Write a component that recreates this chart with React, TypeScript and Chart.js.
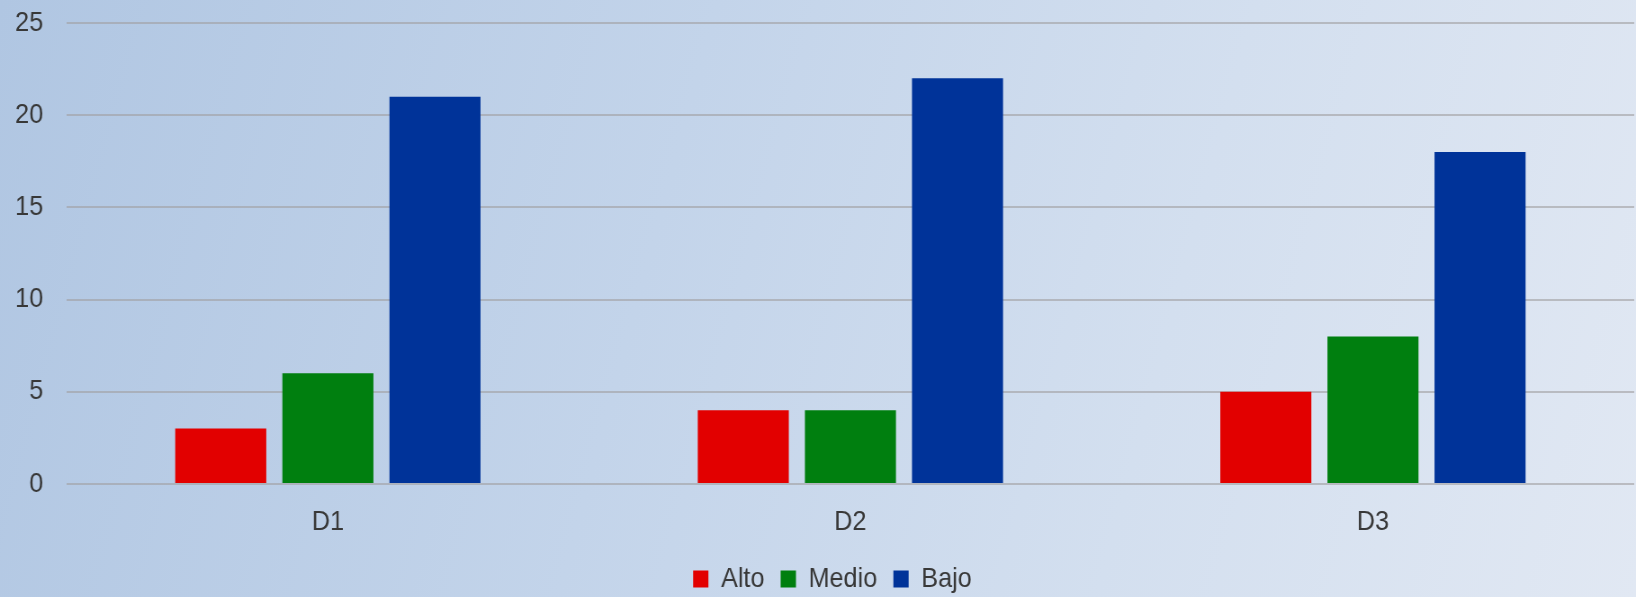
import React, { useEffect, useRef } from "react";
import { Chart, registerables } from "chart.js";

Chart.register(...registerables);

const categories = ["D1", "D2", "D3"];
const alto = [3, 4, 5];
const medio = [6, 4, 8];
const bajo = [21, 22, 18];
const yTicks = [0, 5, 10, 15, 20, 25];

const FONT = "'Liberation Sans', Arial, sans-serif";
const TEXT = "#383838";
// Canvas is drawn a little wider than shown and squeezed horizontally,
// which matches the slightly condensed lettering of the reference.
const CANVAS_W = 1818;
const CANVAS_H = 603;
const LEGEND_SHIFT = 17;

const legendShift = {
  id: "legendShift",
  afterLayout(chart: any) {
    const l = chart.legend;
    if (l) {
      l.left += LEGEND_SHIFT;
      l.right += LEGEND_SHIFT;
    }
  },
};

export default function App() {
  const ref = useRef<HTMLCanvasElement | null>(null);

  useEffect(() => {
    if (!ref.current) return;
    const chart = new Chart(ref.current, {
      type: "bar",
      data: {
        labels: categories,
        datasets: [
          { label: "Alto", data: alto, backgroundColor: "#e20000", borderWidth: 0 },
          { label: "Medio", data: medio, backgroundColor: "#007f0f", borderWidth: 0 },
          { label: "Bajo", data: bajo, backgroundColor: "#003399", borderWidth: 0 },
        ],
      },
      plugins: [legendShift],
      options: {
        responsive: false,
        animation: false,
        maintainAspectRatio: false,
        layout: { padding: { top: 23, right: 2, left: 0, bottom: 0 } },
        datasets: { bar: { barPercentage: 0.85, categoryPercentage: 0.615 } },
        plugins: {
          tooltip: { enabled: false },
          legend: {
            position: "bottom",
            labels: {
              boxWidth: 17,
              boxHeight: 17,
              padding: 18,
              color: TEXT,
              font: { family: FONT, size: 28 },
            },
          },
        },
        scales: {
          x: {
            grid: { display: true, color: "rgba(0,0,0,0)", drawOnChartArea: false, drawTicks: true, tickLength: 13.5 },
            border: { display: false },
            ticks: { color: TEXT, padding: 8, font: { family: FONT, size: 28 } },
          },
          y: {
            min: 0,
            max: 25,
            afterBuildTicks: (s: any) => {
              s.ticks = yTicks.map((v) => ({ value: v }));
            },
            afterFit: (s: any) => {
              s.width = 74;
            },
            grid: {
              color: "rgba(160,158,160,0.6)",
              lineWidth: 2,
              drawTicks: true,
              tickLength: 26,
              tickColor: "rgba(0,0,0,0)",
            },
            border: { display: false },
            ticks: { color: TEXT, padding: 0, font: { family: FONT, size: 28 } },
          },
        },
      },
    });
    return () => chart.destroy();
  }, []);

  return (
    <div
      style={{
        position: "absolute",
        left: 0,
        top: 0,
        width: 1636,
        height: 597,
        overflow: "hidden",
        background: "linear-gradient(105deg, #b0c6e2 0%, #c3d4ea 40%, #d3dfef 70%, #e1e8f3 100%)",
      }}
    >
      <canvas
        ref={ref}
        width={CANVAS_W}
        height={CANVAS_H}
        style={{ display: "block", width: "1636px", height: CANVAS_H + "px" }}
      />
    </div>
  );
}
